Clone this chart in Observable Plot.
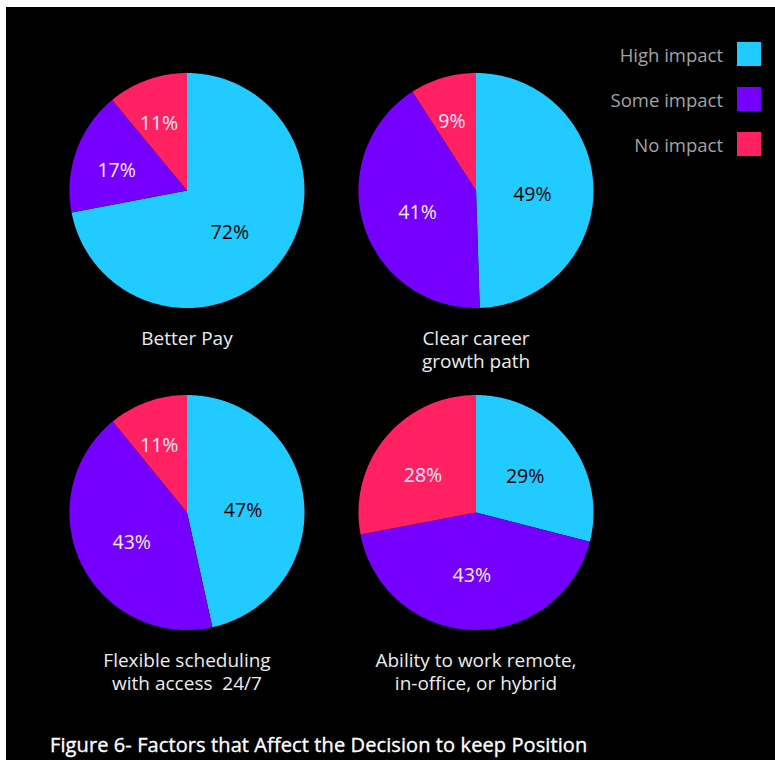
<!DOCTYPE html>
<html>
<head>
<meta charset="utf-8">
<script src="https://cdn.jsdelivr.net/npm/d3@7"></script>
<script src="https://cdn.jsdelivr.net/npm/@observablehq/plot@0.6"></script>
<style>
  html, body { margin: 0; padding: 0; background: #ffffff; }
  #frame { position: absolute; left: 6px; top: 7px; width: 769px; height: 753px; background: #000000; overflow: hidden; font-family: "Open Sans", Lato, sans-serif; }
  #chart { position: absolute; left: 0; top: 0; }
  #legend { position: absolute; left: 0; top: 0; width: 769px; height: 200px; }
  .lg-row { position: absolute; right: 14px; height: 24px; display: flex; align-items: center; }
  .lg-text { color: #a3a3a3; font-size: 18.5px; margin-right: 14px; font-weight: 400; }
  .lg-swatch { width: 24px; height: 24px; }
  #caption { position: absolute; left: 44px; top: 726px; color: #ffffff; font-size: 20px; line-height: 24px; font-weight: 400; letter-spacing: 0.1px; -webkit-text-stroke: 0.35px #ffffff; }
</style>
</head>
<body>
<div id="frame">
  <div id="chart"></div>
  <div id="legend"></div>
  <div id="caption"></div>
</div>
<script>
// ---- data ----
const categories = ["Better Pay", "Clear career\ngrowth path", "Flexible scheduling\nwith access  24/7", "Ability to work remote,\nin-office, or hybrid"];
const levels = ["High impact", "Some impact", "No impact"];
const highImpact = [72, 49, 47, 29];
const someImpact = [17, 41, 43, 43];
const noImpact = [11, 9, 11, 28];
const colors = ["#22CBFF", "#7600FF", "#FF2162"];
const caption = "Figure 6- Factors that Affect the Decision to keep Position";

// ---- layout (in units of pie radius) ----
const W = 769, H = 720, R = 117.5;
const DX = 289 / R, DY = 322 / R;
const X0 = 180.5 / R, Y0 = 183 / R;

const series = [highImpact, someImpact, noImpact];
const slices = [];
const labels = [];
const titles = [];
categories.forEach((cat, i) => {
  const cx = (i % 2) * DX, cy = Math.floor(i / 2) * DY;
  const total = series.reduce((s, arr) => s + arr[i], 0);
  let acc = 0;
  levels.forEach((lv, k) => {
    const v = series[k][i];
    const a0 = acc / total * 2 * Math.PI;
    acc += v;
    const a1 = acc / total * 2 * Math.PI;
    const key = i + "-" + k;
    slices.push({key, level: lv, x: cx, y: cy});
    const n = Math.max(2, Math.ceil((a1 - a0) / (Math.PI / 180)));
    for (let j = 0; j <= n; j++) {
      const a = a0 + (a1 - a0) * j / n;
      slices.push({key, level: lv, x: cx + Math.sin(a), y: cy - Math.cos(a)});
    }
    slices.push({key, level: lv, x: cx, y: cy});
    const frac = v / total;
    const f = 0.7 - 0.5 * Math.min(frac, 0.4);
    const am = (a0 + a1) / 2;
    labels.push({level: lv, k, text: v + "%", x: cx + f * Math.sin(am) - 0.02, y: cy - f * Math.cos(am) + 0.04});
  });
  titles.push({text: cat, x: cx, y: cy + 1.18});
});

const plot = Plot.plot({
  width: W,
  height: H,
  margin: 0,
  style: {background: "transparent", fontFamily: "'Open Sans', Lato, sans-serif"},
  x: {axis: null, domain: [-X0, (W / R) - X0], range: [0, W]},
  y: {axis: null, domain: [-Y0, (H / R) - Y0], range: [0, H]},
  color: {domain: levels, range: colors},
  marks: [
    Plot.line(slices, {x: "x", y: "y", z: "key", fill: "level", stroke: "none", curve: "linear"}),
    Plot.text(labels.filter(d => d.k === 0), {x: "x", y: "y", text: "text", fill: "#000000", fontSize: 19.5}),
    Plot.text(labels.filter(d => d.k !== 0), {x: "x", y: "y", text: "text", fill: "#f4eefc", fontSize: 19.5}),
    Plot.text(titles, {x: "x", y: "y", text: "text", fill: "#ececec", fontSize: 19, lineAnchor: "top", lineHeight: 1.2})
  ]
});
document.getElementById("chart").appendChild(plot);

// legend
const legend = document.getElementById("legend");
levels.forEach((lv, k) => {
  const row = document.createElement("div");
  row.className = "lg-row";
  row.style.top = (35 + k * 45) + "px";
  const t = document.createElement("span");
  t.className = "lg-text";
  t.textContent = lv;
  const s = document.createElement("span");
  s.className = "lg-swatch";
  s.style.background = colors[k];
  row.appendChild(t);
  row.appendChild(s);
  legend.appendChild(row);
});
document.getElementById("caption").textContent = caption;
</script>
</body>
</html>
